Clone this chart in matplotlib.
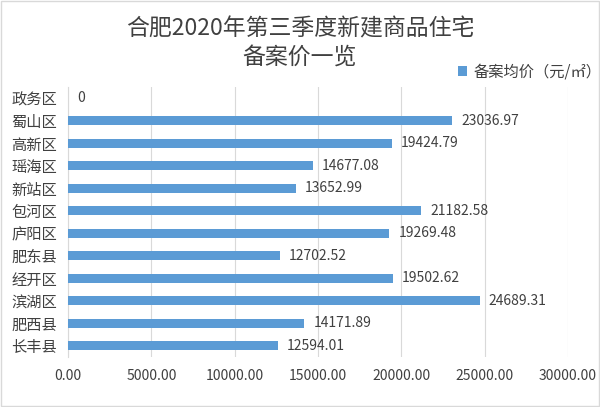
import matplotlib.pyplot as plt
import numpy as np

plt.rcParams['font.family'] = ['Noto Sans CJK SC', 'DejaVu Sans']

districts = ["政务区", "蜀山区", "高新区", "瑶海区", "新站区", "包河区",
             "庐阳区", "肥东县", "经开区", "滨湖区", "肥西县", "长丰县"]
prices = [0, 23036.97, 19424.79, 14677.08, 13652.99, 21182.58,
          19269.48, 12702.52, 19502.62, 24689.31, 14171.89, 12594.01]
x_ticks = [0, 5000, 10000, 15000, 20000, 25000, 30000]

bar_color = "#5b9bd5"
text_color = "#404040"

fig = plt.figure(figsize=(6.0, 4.07), dpi=100)
fig.patch.set_facecolor("white")
ax = fig.add_axes([0.1133, 0.123, 0.8334, 0.663])

y = np.arange(len(districts))
ax.barh(y, prices, height=0.4, color=bar_color, label="备案均价（元/㎡）", zorder=3)
ax.set_ylim(len(districts) - 0.5, -0.5)
ax.set_yticks(y)
ax.set_yticklabels(districts, fontsize=11, color=text_color)
ax.set_xlim(0, 30000)
ax.set_xticks(x_ticks)
ax.set_xticklabels([f"{v:.2f}" for v in x_ticks], fontsize=10, color=text_color)
ax.tick_params(axis="both", length=0)
ax.tick_params(axis="x", pad=9)
ax.tick_params(axis="y", pad=8)

for s in ["top", "right", "bottom"]:
    ax.spines[s].set_visible(False)
ax.spines["left"].set_color("#d9d9d9")
ax.grid(axis="x", color="#d9d9d9", linewidth=0.8, zorder=0)
ax.set_axisbelow(True)

for yi, v in zip(y, prices):
    label = "0" if v == 0 else f"{v:.2f}"
    ax.text(v + 550 if v else 550, yi, label, va="center", ha="left",
            fontsize=10, color=text_color)

fig.text(0.5, 0.928, "合肥2020年第三季度新建商品住宅", ha="center", va="center",
         fontsize=16.5, color=text_color)
fig.text(0.5, 0.86, "备案价一览", ha="center", va="center",
         fontsize=16.5, color=text_color)

ax.legend(loc="lower right", bbox_to_anchor=(1.085, 0.99), frameon=False,
          fontsize=11, handlelength=0.6, handleheight=0.6, handletextpad=0.4,
          labelcolor=text_color, borderaxespad=0.2)

border = plt.Rectangle((0.002, 0.002), 0.996, 0.996, transform=fig.transFigure,
                       fill=False, edgecolor="#d9d9d9", linewidth=1)
fig.patches.append(border)

fig.savefig("out.png", dpi=100)
